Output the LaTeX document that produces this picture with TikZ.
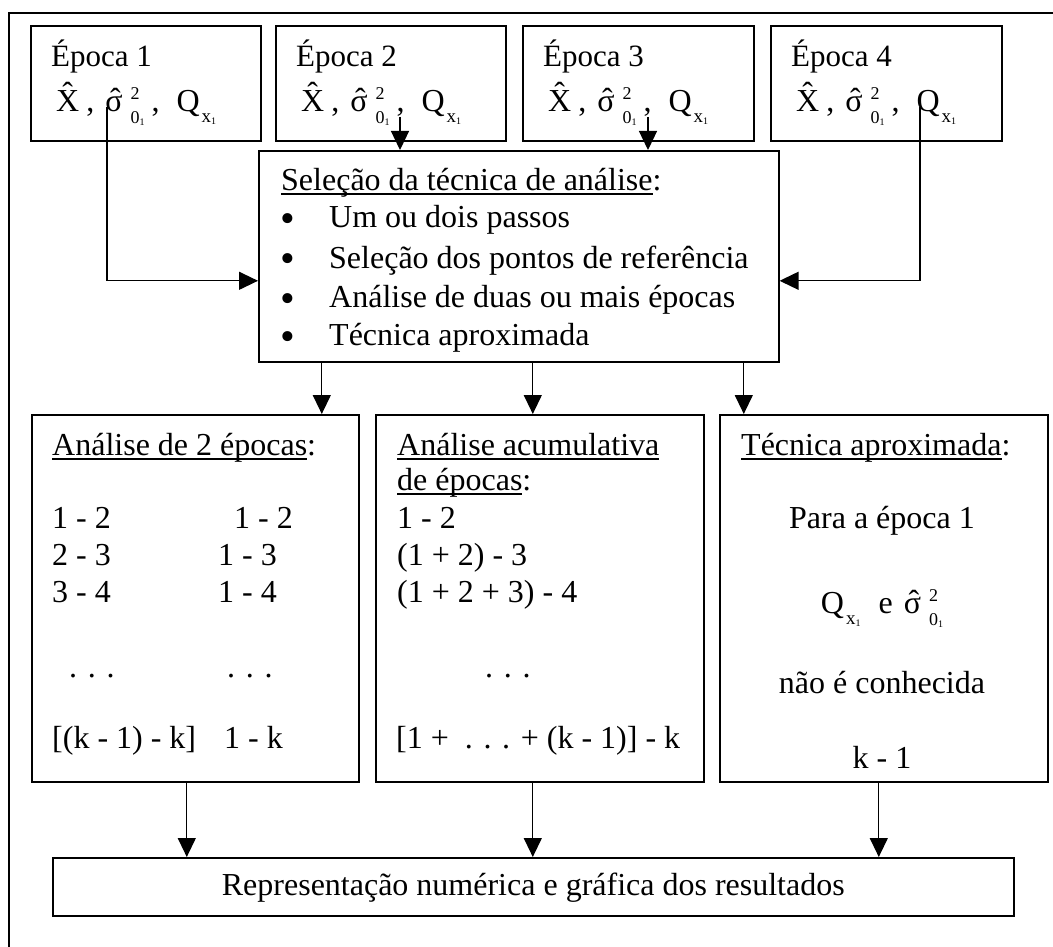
\documentclass[tikz,border=0pt]{standalone}
\usepackage{fontspec}
\setmainfont{Liberation Serif}
\usetikzlibrary{arrows.meta,calc}

\newcommand\fs{\fontsize{32}{38}\selectfont}
\newcommand\fse{\fontsize{31}{38}\selectfont}
\newcommand\scr[1]{\fontsize{#1}{#1}\selectfont}

% underlined heading word(s), rule at a fixed depth below the baseline
\newsavebox\ulbox
\newcommand\ulin[1]{\sbox\ulbox{#1}\rlap{\rule[-4.5pt]{\wd\ulbox}{1.4pt}}\usebox\ulbox}

% hat centred over a glyph: #1 raise, #2 sideways nudge, #3 glyph
\newcommand\hatop[3]{\leavevmode\setbox0\hbox{#3}\rlap{\hbox to \wd0{\hss\kern#2\raisebox{#1}{\char"02C6}\hss}}\box0}

% estimator symbols
\newcommand\xhat{\hatop{7pt}{0pt}{X}}
\newcommand\shat{\hatop{1pt}{3pt}{σ}}
\newcommand\sigsq{\shat\kern8pt\rlap{\raisebox{12pt}{\scr{18}2}}\raisebox{-12pt}{\scr{18}0\raisebox{-2pt}{\scr{10}1}}}
\newcommand\qxone{Q\kern2pt\raisebox{-11pt}{\scr{19}x\raisebox{-2pt}{\scr{10}1}}}
\newcommand\epform{\xhat\kern7pt,\kern11pt\sigsq\kern7pt,\kern17pt\qxone}
\newcommand\bul{\raisebox{-5pt}{\scr{42}•}}

\tikzset{
  box/.style={draw, line width=1.6pt, inner sep=0pt, anchor=north west},
  txt/.style={anchor=base west, inner sep=0pt, font=\fs},
  etxt/.style={anchor=base west, inner sep=0pt, font=\fse},
  ctxt/.style={anchor=base, inner sep=0pt, font=\fs},
  arr/.style={line width=1.3pt, -{Triangle[length=19pt,width=18pt]}},
  frame/.style={line width=1.8pt},
}

\begin{document}
\begin{tikzpicture}[x=1pt, y=-1pt]
\useasboundingbox (0,0) rectangle (1053,947);

% outer frame (only its top and left sides fall inside the page)
\draw[frame] (9,947) -- (9,13) -- (1053,13);

% epoch boxes
\node[box, minimum width=230pt, minimum height=115pt] (ep1) at (30,25) {};
\node[box, minimum width=230pt, minimum height=115pt] (ep2) at (275,25) {};
\node[box, minimum width=231pt, minimum height=115pt] (ep3) at (522,25) {};
\node[box, minimum width=231pt, minimum height=115pt] (ep4) at (770,25) {};

\node[etxt] (ept1) at (51,67) {Época 1};
\node[etxt] (ept2) at (296,67) {Época 2};
\node[etxt] (ept3) at (543,67) {Época 3};
\node[etxt] (ept4) at (791,67) {Época 4};

\node[txt] (epf1) at (56,112) {\epform};
\node[txt] (epf2) at (301,112) {\epform};
\node[txt] (epf3) at (548,112) {\epform};
\node[txt] (epf4) at (796,112) {\epform};

% selection box
\node[box, minimum width=520pt, minimum height=211pt] (mid) at (258,150) {};
\node[txt] (midh) at (281,190) {\ulin{Seleção da técnica de análise}:};
\node[txt] (b1) at (280,228) {\bul};
\node[txt] (b2) at (280,268) {\bul};
\node[txt] (b3) at (280,307) {\bul};
\node[txt] (b4) at (280,345) {\bul};
\node[txt] (m1) at (329,228) {Um ou dois passos};
\node[txt] (m2) at (329,268) {Seleção dos pontos de referência};
\node[txt] (m3) at (329,307) {Análise de duas ou mais épocas};
\node[txt] (m4) at (329,345) {Técnica aproximada};

% analysis boxes
\node[box, minimum width=327pt, minimum height=367pt] (bA) at (31,414) {};
\node[box, minimum width=328pt, minimum height=367pt] (bB) at (375,414) {};
\node[box, minimum width=328pt, minimum height=367pt] (bC) at (719,414) {};

\node[txt] (ah) at (52,455) {\ulin{Análise de 2 épocas}:};
\node[txt] (a1) at (52,528) {1 - 2};
\node[txt] (a2) at (52,565) {2 - 3};
\node[txt] (a3) at (52,602) {3 - 4};
\node[txt] (ad) at (69,677) {. . .};
\node[txt] (ak) at (52,748) {[(k - 1) - k]};
\node[txt] (c1) at (234,528) {1 - 2};
\node[txt] (c2) at (218,565) {1 - 3};
\node[txt] (c3) at (218,602) {1 - 4};
\node[txt] (cd) at (227,677) {. . .};
\node[txt] (ck) at (224,748) {1 - k};

\node[txt] (bh1) at (397,455) {\ulin{Análise acumulativa}};
\node[txt] (bh2) at (397,490) {\ulin{de épocas}:};
\node[txt] (bb1) at (397,528) {1 - 2};
\node[txt] (bb2) at (397,565) {(1 + 2) - 3};
\node[txt] (bb3) at (397,602) {(1 + 2 + 3) - 4};
\node[txt] (bbd) at (485,677) {. . .};
\node[txt] (bbk) at (396,748) {[1 + \ . . . + (k - 1)] - k};

\node[txt] (ch) at (741,455) {\ulin{Técnica aproximada}:};
\node[ctxt] (cc1) at (882,528) {Para a época 1};
\node[ctxt] (cc2) at (882,613) {\qxone\kern18pt e\kern11pt\sigsq};
\node[ctxt] (cc3) at (882,693) {não é conhecida};
\node[ctxt] (cc4) at (882,768) {k - 1};

% results box
\node[box, minimum width=961pt, minimum height=58pt] (res) at (52,857) {};
\node[ctxt] (rest) at (res.center |- 0,895) {Representação numérica e gráfica dos resultados};

% connectors
\coordinate (s1) at (107,107);
\coordinate (s2) at (400,117);
\coordinate (s3) at (648,117);
\coordinate (s4) at (920,107);
\draw[arr] (s1) |- ([yshift=-24.5pt]mid.west);
\draw[arr] (s4) |- ([yshift=-24.5pt]mid.east);
\draw[arr] (s2) -- (s2 |- mid.north);
\draw[arr] (s3) -- (s3 |- mid.north);

\draw[arr] ([xshift=-197pt]mid.south) -- ([xshift=-197pt]mid.south |- bA.north);
\draw[arr] ([xshift=14pt]mid.south) -- ([xshift=14pt]mid.south |- bB.north);
\draw[arr] ([xshift=225pt]mid.south) -- ([xshift=225pt]mid.south |- bC.north);

\draw[arr] ([xshift=-8.5pt]bA.south) -- ([xshift=-8.5pt]bA.south |- res.north);
\draw[arr] ([xshift=-7pt]bB.south) -- ([xshift=-7pt]bB.south |- res.north);
\draw[arr] ([xshift=-5pt]bC.south) -- ([xshift=-5pt]bC.south |- res.north);
\end{tikzpicture}
\end{document}
